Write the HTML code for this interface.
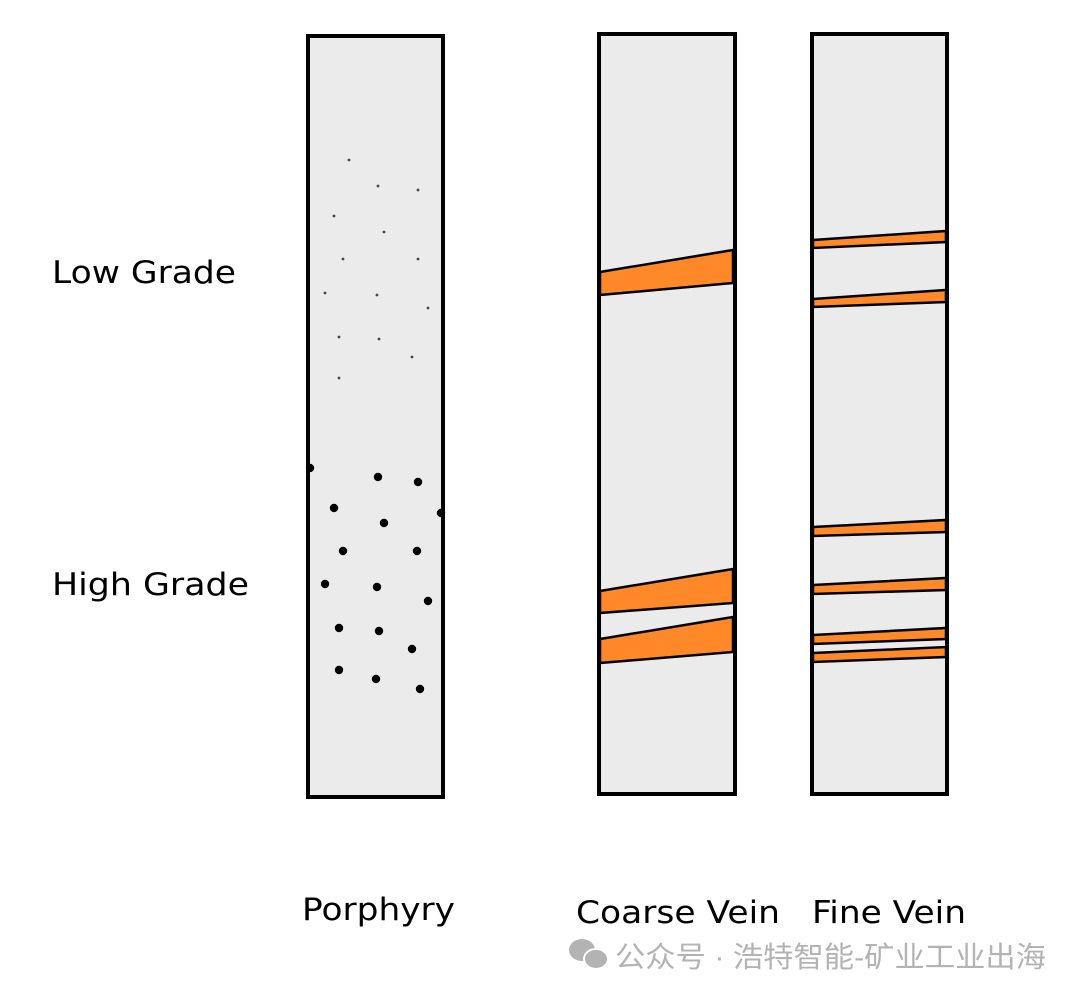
<!DOCTYPE html>
<html><head><meta charset="utf-8"><style>
html,body{margin:0;padding:0;background:#fff;}
svg{display:block;}
text{font-family:"DejaVu Sans","Liberation Sans",sans-serif;}
</style></head><body>
<svg width="1080" height="998" viewBox="0 0 1080 998" xmlns="http://www.w3.org/2000/svg">
<rect x="0" y="0" width="1080" height="998" fill="#fff"/>
<g stroke="#000" stroke-width="4" fill="#ebebeb">
<rect x="308" y="36" width="135" height="761"/>
<rect x="599" y="34" width="136" height="760"/>
<rect x="812" y="34" width="135" height="760"/>
</g>
<g fill="#ff8828" stroke="#000" stroke-width="2.5">
<polygon points="600,272 733,250 733,283 600,295"/>
<polygon points="600,591 733,569 733,603 600,613"/>
<polygon points="600,639 733,617 733,652 600,663"/>
<polygon points="813,240 946,231 946,242 813,248"/>
<polygon points="813,299 946,290 946,302 813,307"/>
<polygon points="813,527 946,520 946,532 813,536"/>
<polygon points="813,585 946,578 946,590 813,594"/>
<polygon points="813,635 946,628 946,639 813,644"/>
<polygon points="813,653 946,647 946,657 813,662"/>
</g>
<g fill="#444">
<circle cx="349" cy="160" r="1.4"/><circle cx="378" cy="186" r="1.4"/><circle cx="418" cy="190" r="1.4"/>
<circle cx="334" cy="216" r="1.4"/><circle cx="384" cy="232" r="1.4"/><circle cx="343" cy="259" r="1.4"/>
<circle cx="418" cy="259" r="1.4"/><circle cx="325" cy="293" r="1.4"/><circle cx="377" cy="295" r="1.4"/>
<circle cx="428" cy="308" r="1.4"/><circle cx="339" cy="337" r="1.4"/><circle cx="379" cy="339" r="1.4"/>
<circle cx="412" cy="357" r="1.4"/><circle cx="339" cy="378" r="1.4"/>
</g>
<g fill="#000">
<circle cx="310" cy="468" r="4.2"/><circle cx="378" cy="477" r="4.2"/><circle cx="418" cy="482" r="4.2"/>
<circle cx="334" cy="508" r="4.2"/><circle cx="384" cy="523" r="4.2"/><circle cx="441" cy="513" r="4.2"/>
<circle cx="343" cy="551" r="4.2"/><circle cx="417" cy="551" r="4.2"/><circle cx="325" cy="584" r="4.2"/>
<circle cx="377" cy="587" r="4.2"/><circle cx="428" cy="601" r="4.2"/><circle cx="339" cy="628" r="4.2"/>
<circle cx="379" cy="631" r="4.2"/><circle cx="412" cy="649" r="4.2"/><circle cx="339" cy="670" r="4.2"/>
<circle cx="376" cy="679" r="4.2"/><circle cx="420" cy="689" r="4.2"/>
</g>
<g fill="#000" font-size="31">
<text x="52" y="283" textLength="184" lengthAdjust="spacingAndGlyphs">Low Grade</text>
<text x="52" y="595" textLength="197" lengthAdjust="spacingAndGlyphs">High Grade</text>
<text x="302" y="920" textLength="153" lengthAdjust="spacingAndGlyphs">Porphyry</text>
<text x="576" y="923" textLength="204" lengthAdjust="spacingAndGlyphs">Coarse Vein</text>
<text x="812" y="923" textLength="154" lengthAdjust="spacingAndGlyphs">Fine Vein</text>
</g>
<g fill="#b3b3b3">
<ellipse cx="582" cy="950" rx="13" ry="11"/>
<ellipse cx="596" cy="959" rx="12" ry="10" stroke="#fff" stroke-width="2"/>
</g>
<text x="615" y="967" font-size="29" fill="#b3b3b3" textLength="431" lengthAdjust="spacingAndGlyphs" style='font-family:"Liberation Sans","Noto Sans CJK SC",sans-serif'>公众号 · 浩特智能-矿业工业出海</text>
</svg>
</body></html>
